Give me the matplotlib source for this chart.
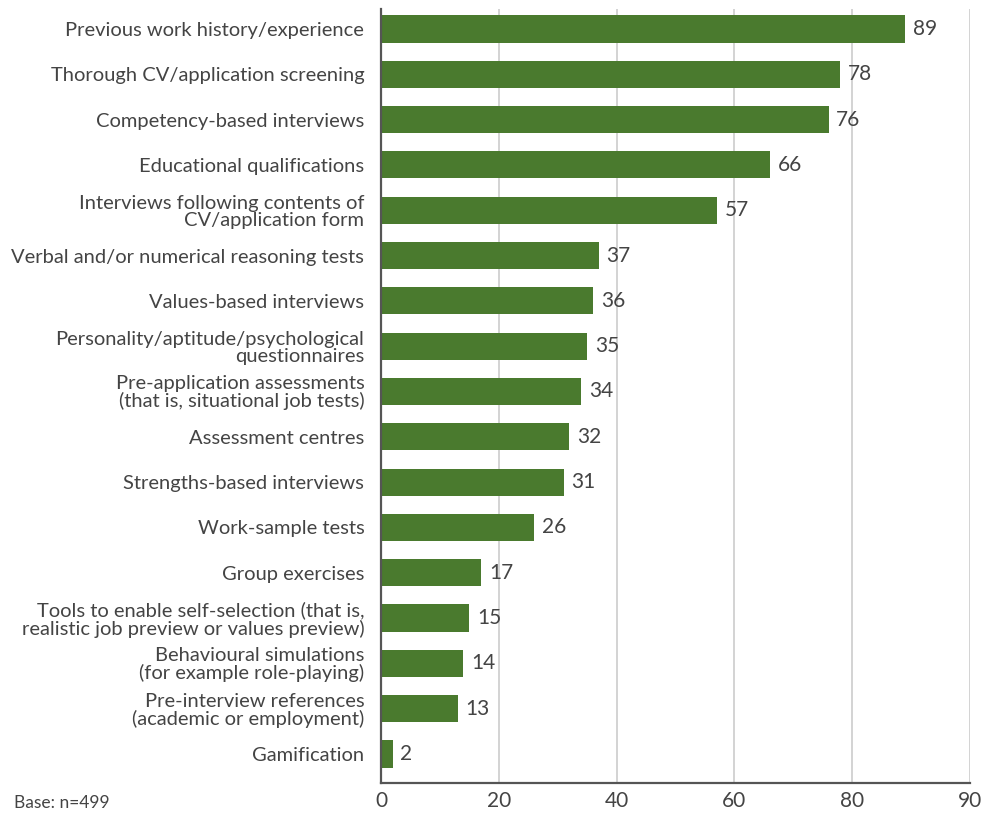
import matplotlib
matplotlib.use("Agg")
import matplotlib.pyplot as plt

categories = [
    "Previous work history/experience",
    "Thorough CV/application screening",
    "Competency-based interviews",
    "Educational qualifications",
    "Interviews following contents of\nCV/application form",
    "Verbal and/or numerical reasoning tests",
    "Values-based interviews",
    "Personality/aptitude/psychological\nquestionnaires",
    "Pre-application assessments\n(that is, situational job tests)",
    "Assessment centres",
    "Strengths-based interviews",
    "Work-sample tests",
    "Group exercises",
    "Tools to enable self-selection (that is,\nrealistic job preview or values preview)",
    "Behavioural simulations\n(for example role-playing)",
    "Pre-interview references\n(academic or employment)",
    "Gamification",
]
values = [89, 78, 76, 66, 57, 37, 36, 35, 34, 32, 31, 26, 17, 15, 14, 13, 2]
tick_pos = [0, 20, 40, 60, 80, 100]
tick_labels = ["0", "20", "40", "60", "80", "90"]

GREEN = "#4a7a2e"
TEXT = "#444444"

plt.rcParams["font.family"] = ["Lato", "DejaVu Sans"]

fig = plt.figure(figsize=(9.82, 8.16), dpi=100)
ax = fig.add_axes([381 / 982, 33 / 816, 589 / 982, 774 / 816])

ypos = list(range(len(categories)))
ax.barh(ypos, values, height=0.6, color=GREEN, zorder=3)
for y, v in zip(ypos, values):
    ax.text(v + 1.3, y, str(v), va="center", ha="left", fontsize=15, color=TEXT)

ax.set_xlim(0, 100)
ax.set_ylim(len(categories) - 1 + 0.64, -0.44)
ax.set_yticks(ypos)
ax.set_yticklabels(categories, fontsize=14.5, color=TEXT, linespacing=1.0)
ax.set_xticks(tick_pos)
ax.set_xticklabels(tick_labels, fontsize=15, color=TEXT)
ax.tick_params(axis="y", length=0, pad=12)
ax.tick_params(axis="x", length=0, pad=6)
ax.grid(axis="x", color="#cccccc", linewidth=1.2, zorder=0)
for s in ["top", "right"]:
    ax.spines[s].set_visible(False)
for s in ["left", "bottom"]:
    ax.spines[s].set_color("#555555")
    ax.spines[s].set_linewidth(1.6)
    ax.spines[s].set_zorder(4)

fig.text(14 / 982, 1 - 803 / 816, "Base: n=499", fontsize=12.5, color=TEXT, va="center", ha="left")

fig.savefig("out.png", dpi=100)
